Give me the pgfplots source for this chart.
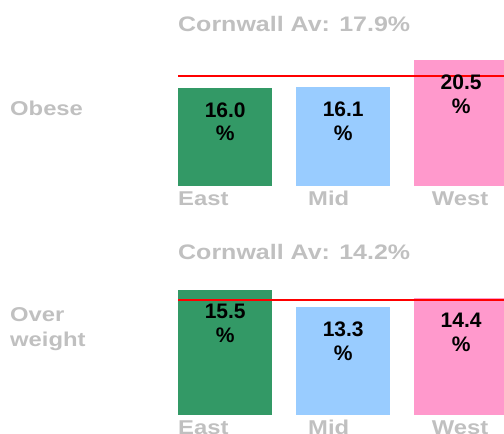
\documentclass[border=0pt]{standalone}
\usepackage{pgfplots}
\pgfplotsset{compat=1.18}
\usepackage{fontspec}
\setmainfont{Liberation Sans}
\newfontfamily\gfont{Liberation Sans}[FakeStretch=1.19]
\definecolor{cgreen}{RGB}{51,153,102}
\definecolor{cblue}{RGB}{153,204,255}
\definecolor{cpink}{RGB}{255,153,204}
\definecolor{cgray}{RGB}{192,192,192}
\pgfplotsset{
  panel/.style={
    scale only axis, width=326bp, xmin=-0.4, xmax=2.363, ymin=0,
    axis lines=none, ticks=none, clip=true,
    /pgf/number format/assume math mode=true,
  },
  lbl/.style={
    ybar, bar width=0.8, draw=none,
    nodes near coords={\pgfmathprintnumber[fixed,fixed zerofill,precision=1]{\pgfplotspointmeta}\\\%},
    every node near coord/.append style={anchor=north, yshift=-14.5bp, inner sep=0pt, align=center,
      font=\fontsize{21bp}{23.5bp}\selectfont\bfseries, text=black},
  },
}
\begin{document}
\begin{tikzpicture}[x=1bp,y=1bp]
\useasboundingbox (0,0) rectangle (504,434);
\clip (0,0) rectangle (504,434);
% Panel 1: Obese
\begin{axis}[panel, at={(178bp,248bp)}, anchor=south west, height=136bp, ymax=22.19]
\addplot[lbl, fill=cgreen] coordinates {(0,16.0)};
\addplot[lbl, fill=cblue] coordinates {(1,16.1)};
\addplot[lbl, fill=cpink] coordinates {(2,20.5)};
\addplot[red, line width=1.6bp] coordinates {(-0.4,17.9) (2.363,17.9)};
\end{axis}
% Panel 2: Overweight
\begin{axis}[panel, at={(178bp,19.3bp)}, anchor=south west, height=136bp, ymax=16.85]
\addplot[lbl, fill=cgreen] coordinates {(0,15.5)};
\addplot[lbl, fill=cblue] coordinates {(1,13.3)};
\addplot[lbl, fill=cpink] coordinates {(2,14.4)};
\addplot[red, line width=1.6bp] coordinates {(-0.4,14.2) (2.363,14.2)};
\end{axis}
\begin{scope}[every node/.style={inner sep=0pt, text=cgray}]
\node[anchor=base west, font=\gfont\bfseries\fontsize{21bp}{25bp}\selectfont] at (178,402.3) {Cornwall Av: 17.9\%};
\node[anchor=base west, font=\gfont\bfseries\fontsize{21bp}{25bp}\selectfont] at (178,174) {Cornwall Av: 14.2\%};
\node[anchor=base west, font=\gfont\bfseries\fontsize{20bp}{25bp}\selectfont] at (10,318) {Obese};
\node[anchor=base west, font=\gfont\bfseries\fontsize{20bp}{25bp}\selectfont] at (10,112.5) {Over};
\node[anchor=base west, font=\gfont\bfseries\fontsize{20bp}{25bp}\selectfont] at (10,87.5) {weight};
\foreach \yy in {228,-0.3} {
  \node[anchor=base west, font=\gfont\bfseries\fontsize{20bp}{25bp}\selectfont] at (178,\yy) {East};
  \node[anchor=base west, font=\gfont\bfseries\fontsize{20bp}{25bp}\selectfont] at (308,\yy) {Mid};
  \node[anchor=base west, font=\gfont\bfseries\fontsize{20bp}{25bp}\selectfont] at (431.7,\yy) {West};
}
\end{scope}
\end{tikzpicture}
\end{document}
